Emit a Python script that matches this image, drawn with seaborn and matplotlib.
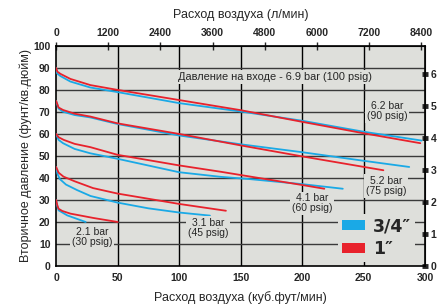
import numpy as np
import pandas as pd
import matplotlib
matplotlib.use("Agg")
import matplotlib.pyplot as plt
import seaborn as sns
from matplotlib.patches import Patch

# ---------------- data (cfm, psig) ----------------
inlet_labels = ["6.2 bar\n(90 psig)", "5.2 bar\n(75 psig)", "4.1 bar\n(60 psig)",
                "3.1 bar\n(45 psig)", "2.1 bar\n(30 psig)"]
sizes = ["3/4\u2033", "1\u2033"]

# 90 psig
f90_red = [0, 1, 3.5, 11.6, 27.8, 50, 100, 150, 200, 250, 296]
p90_red = [90, 88.3, 87.3, 85, 82.2, 80, 75.4, 70.8, 65.5, 60.3, 55.8]
f90_blue = [0, 0.8, 3.5, 11.6, 27.8, 50, 100, 150, 200, 250, 297]
p90_blue = [90, 87.5, 86.3, 83.8, 81.1, 79, 74.0, 70.2, 66.0, 61.0, 57.0]
# 75 psig
f75_red = [0, 2, 5.6, 15, 27.8, 50, 100, 150, 200, 266]
p75_red = [75, 72, 70.9, 69.2, 67.9, 64.8, 60, 54.8, 49.8, 43.5]
f75_blue = [0, 2, 5.6, 15, 27.8, 50, 100, 150, 200, 250, 287]
p75_blue = [75, 71.5, 70.1, 68.6, 67.5, 64.5, 59.3, 55.3, 51.7, 47.8, 45]
# 60 psig
f60_red = [0, 2, 6.2, 15, 27.8, 50, 100, 134, 157, 200, 218]
p60_red = [60, 58.5, 57.3, 55.5, 54, 50.5, 45.7, 42.8, 40.7, 36.8, 35.1]
f60_blue = [0, 2, 5.6, 15, 27.8, 50, 100, 134, 157, 200, 233]
p60_blue = [60, 57.3, 55.8, 53.2, 51.2, 48.7, 42.6, 40.5, 39.5, 37.2, 35.1]
# 45 psig
f45_red = [0, 2, 6, 15, 30, 50, 100, 138]
p45_red = [45, 42.4, 40.6, 38.5, 35.4, 32.9, 28.2, 25.1]
f45_blue = [0, 1, 3, 8, 17, 28, 50, 75, 100, 125]
p45_blue = [45, 42, 39.5, 37, 34.5, 31.8, 28.8, 26.2, 24.3, 22.9]
# 30 psig
f30_red = [0, 1, 2, 5, 11.6, 30.5, 50]
p30_red = [30, 27.5, 26, 25, 23.8, 21.8, 20]
f30_blue = [0, 0.8, 2, 9, 24]
p30_blue = [30, 27.6, 25.3, 23, 20]

series = [
    ("90", sizes[0], f90_blue, p90_blue), ("90", sizes[1], f90_red, p90_red),
    ("75", sizes[0], f75_blue, p75_blue), ("75", sizes[1], f75_red, p75_red),
    ("60", sizes[0], f60_blue, p60_blue), ("60", sizes[1], f60_red, p60_red),
    ("45", sizes[0], f45_blue, p45_blue), ("45", sizes[1], f45_red, p45_red),
    ("30", sizes[0], f30_blue, p30_blue), ("30", sizes[1], f30_red, p30_red),
]
rows = []
for inlet, size, f, p in series:
    for fx, py in zip(f, p):
        rows.append({"flow": fx, "psi": py, "size": size, "unit": inlet + size})
df = pd.DataFrame(rows)

bottom_ticks = [0, 50, 100, 150, 200, 250, 300]
top_ticks = [0, 1200, 2400, 3600, 4800, 6000, 7200, 8400]
left_ticks = list(range(0, 101, 10))
right_ticks = [0, 1, 2, 3, 4, 5, 6]

# ---------------- style ----------------
sns.set_style("white")
plt.rcParams["font.family"] = ["Liberation Sans", "DejaVu Sans"]

BG = "#dedfdb"
BLUE = "#1aa9e6"
RED = "#e8222c"

fig = plt.figure(figsize=(4.42, 3.04), dpi=100)
ax = fig.add_axes([0.127, 0.125, 0.835, 0.724])
ax.set_facecolor(BG)

# grid
for x in [50, 100, 150, 200, 250]:
    ax.axvline(x, color="black", lw=1.0, zorder=1)
for y in range(10, 100, 10):
    ax.axhline(y, color="#3a3a3a", lw=1.0, zorder=1)

sns.lineplot(data=df, x="flow", y="psi", hue="size", units="unit",
             estimator=None, sort=False, palette={sizes[0]: BLUE, sizes[1]: RED},
             lw=1.3, ax=ax, legend=False, zorder=3)

ax.set_xlim(0, 300)
ax.set_ylim(0, 100)
ax.set_xticks(bottom_ticks)
ax.set_yticks(left_ticks)
ax.tick_params(axis="both", labelsize=7.5, width=1, length=4, direction="inout", color="black")
ax.tick_params(axis="x", length=0, pad=5)
ax.tick_params(axis="y", pad=2)
for lab in ax.get_xticklabels() + ax.get_yticklabels():
    lab.set_fontweight("bold")
for s in ax.spines.values():
    s.set_color("black")
    s.set_linewidth(1.2)

ax.set_xlabel("Расход воздуха (куб.фут/мин)", fontsize=9, labelpad=6)
ax.set_ylabel("Вторичное давление (фунт/кв.дюйм)", fontsize=9, labelpad=1)

# top axis (l/min)
top = ax.secondary_xaxis("top", functions=(lambda c: c * 28.3168, lambda l: l / 28.3168))
top.set_xticks(top_ticks)
top.tick_params(labelsize=7.5, length=6, width=1, direction="inout", pad=3)
for lab in top.get_xticklabels():
    lab.set_fontweight("bold")
top.set_xlabel("Расход воздуха (л/мин)", fontsize=9, labelpad=7)

# right axis (bar)
right = ax.secondary_yaxis("right", functions=(lambda p: p / 14.5038, lambda b: b * 14.5038))
right.set_yticks(right_ticks)
right.tick_params(labelsize=7.5, length=4, width=3.5, direction="inout", pad=2)
for lab in right.get_yticklabels():
    lab.set_fontweight("bold")

# annotations
box = dict(facecolor=BG, edgecolor="none", pad=1.5)
ax.text(99, 86, "Давление на входе - 6.9 bar (100 psig)", fontsize=7.9,
        va="center", ha="left", bbox=box, zorder=4)
label_pos = [(269, 70.3), (268, 36.4), (208, 28.4), (123.5, 17.3), (29, 13.4)]
for txt, (x, y) in zip(inlet_labels, label_pos):
    ax.text(x, y, txt, fontsize=7.5, ha="center", va="center",
            linespacing=1.0, bbox=dict(facecolor=BG, edgecolor="none", pad=1.2), zorder=4)

handles = [Patch(facecolor=BLUE, edgecolor="none"), Patch(facecolor=RED, edgecolor="none")]
leg = ax.legend(handles, sizes, loc="lower right", bbox_to_anchor=(0.995, -0.02),
                frameon=True, facecolor=BG, edgecolor="none", framealpha=1,
                handlelength=1.35, handleheight=0.5, handletextpad=0.45,
                labelspacing=0.3, borderpad=0.2,
                prop={"size": 12.5, "weight": "bold", "family": "DejaVu Sans"})
leg.set_zorder(5)

fig.savefig("out.png", dpi=100)
